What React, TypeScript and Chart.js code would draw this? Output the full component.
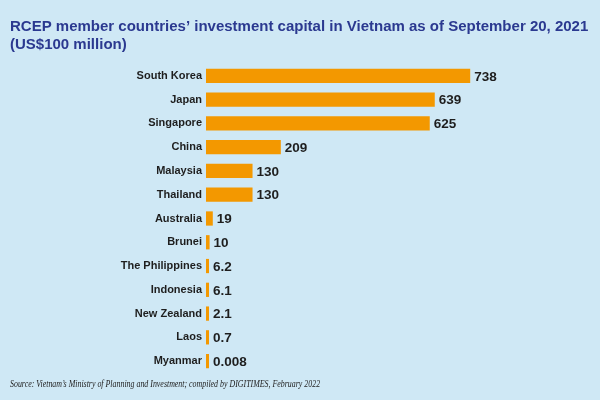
import React, { useEffect, useRef } from "react";
import { Chart, registerables } from "chart.js";

Chart.register(...registerables);

const countries = [
  "South Korea", "Japan", "Singapore", "China", "Malaysia", "Thailand",
  "Australia", "Brunei", "The Philippines", "Indonesia", "New Zealand", "Laos", "Myanmar",
];
const values = [738, 639, 625, 209, 130, 130, 19, 10, 6.2, 6.1, 2.1, 0.7, 0.008];
const valueLabels = ["738", "639", "625", "209", "130", "130", "19", "10", "6.2", "6.1", "2.1", "0.7", "0.008"];
const titleLines = [
  "RCEP member countries\u2019 investment capital in Vietnam as of September 20, 2021",
  "(US$100 million)",
];
const sourceText = "Source: Vietnam\u2019s Ministry of Planning and Investment; compiled by DIGITIMES, February 2022";

const BG = "#cfe8f5";
const SANS = "'Liberation Sans', Arial, sans-serif";

const valueLabelPlugin = {
  id: "valueLabels",
  afterDatasetsDraw(chart: any) {
    const ctx = chart.ctx;
    const meta = chart.getDatasetMeta(0);
    ctx.save();
    ctx.font = "bold 13.5px " + SANS;
    ctx.fillStyle = "#1e1e1e";
    ctx.textAlign = "left";
    ctx.textBaseline = "middle";
    meta.data.forEach((bar: any, i: number) => {
      ctx.fillText(valueLabels[i], bar.x + 4, bar.y + 1);
    });
    ctx.restore();
  },
};

const textPlugin = {
  id: "titleAndSource",
  afterDraw(chart: any) {
    const ctx = chart.ctx;
    ctx.save();
    ctx.fillStyle = "#2b3990";
    ctx.textAlign = "left";
    ctx.textBaseline = "alphabetic";
    ctx.font = "bold 15px " + SANS;
    ctx.fillText(titleLines[0], 10, 31);
    ctx.fillText(titleLines[1], 10, 49);

    ctx.font = "italic 10px 'Liberation Serif', 'Times New Roman', serif";
    ctx.fillStyle = "#222";
    ctx.textBaseline = "middle";
    ctx.translate(10, 384);
    ctx.scale(0.79, 1);
    ctx.fillText(sourceText, 0, 0);
    ctx.restore();
  },
};

export default function App() {
  const ref = useRef<HTMLCanvasElement>(null);
  useEffect(() => {
    document.body.style.margin = "0";
    const chart = new Chart(ref.current!, {
      type: "bar",
      data: {
        labels: countries,
        datasets: [
          {
            data: values,
            backgroundColor: "#f39800",
            borderWidth: 0,
            barPercentage: 0.6,
            categoryPercentage: 1,
            minBarLength: 3,
          },
        ],
      },
      options: {
        indexAxis: "y",
        animation: false,
        responsive: false,
        layout: { padding: { left: 10, right: 36, top: 64, bottom: 27 } },
        plugins: {
          legend: { display: false },
          tooltip: { enabled: false },
          title: { display: false },
        },
        scales: {
          x: { display: false, min: 0, max: 1000 },
          y: {
            grid: { display: false, drawTicks: false },
            border: { display: false },
            ticks: {
              color: "#1e1e1e",
              padding: 4,
              font: { family: SANS, size: 11, weight: "bold" },
            },
            afterFit: (scale: any) => {
              scale.width = 196;
            },
          },
        },
      },
      plugins: [valueLabelPlugin, textPlugin],
    });
    return () => chart.destroy();
  }, []);
  return (
    <div style={{ width: 600, height: 400, background: BG }}>
      <canvas ref={ref} width={600} height={400} style={{ display: "block" }} />
    </div>
  );
}
